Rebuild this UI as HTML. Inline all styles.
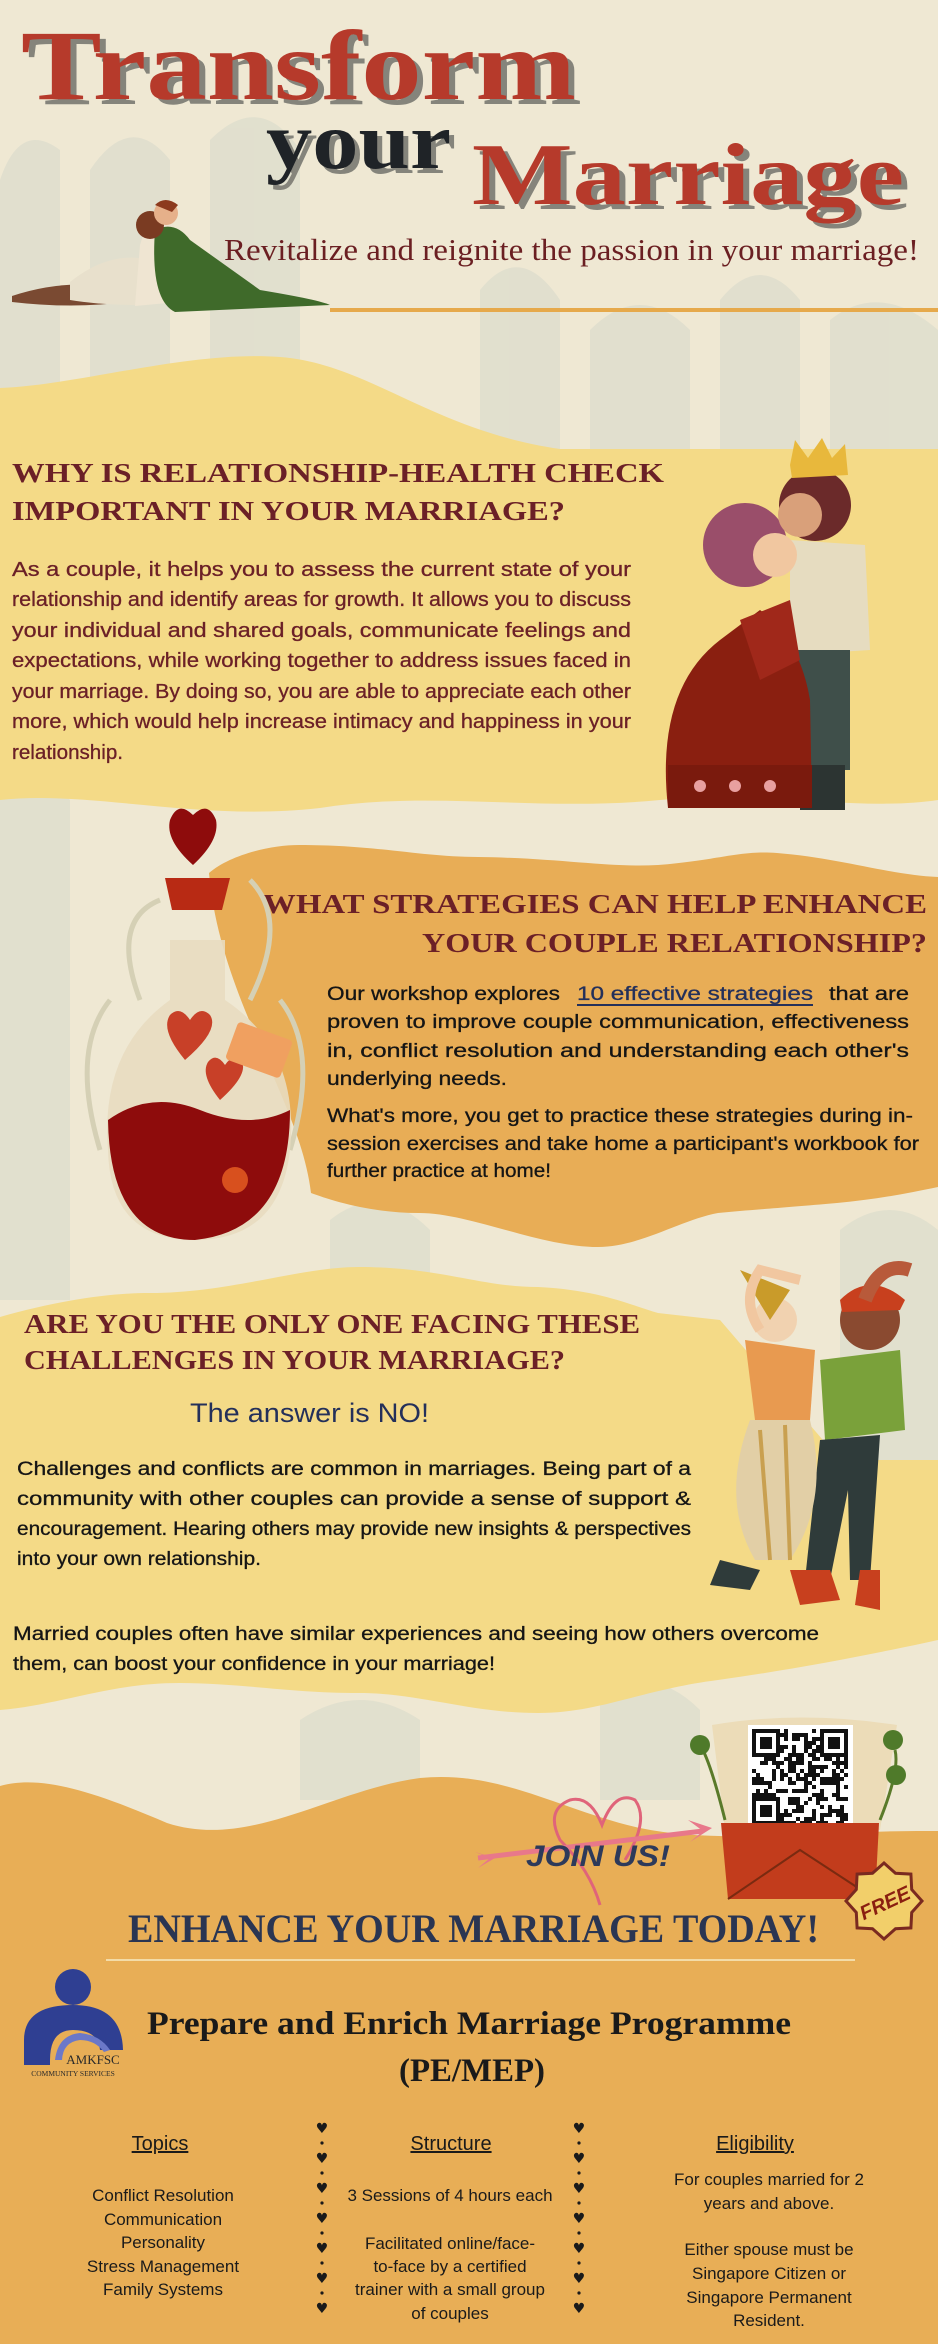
<!DOCTYPE html>
<html><head><meta charset="utf-8"><style>
html,body{margin:0;padding:0;background:#efe8d3;}
svg{display:block;}
.hd{font-family:"Liberation Serif",serif;font-weight:bold;fill:#6b2027;font-size:27px;}
.p1{font-family:"Liberation Sans",sans-serif;fill:#6b2027;font-size:20px;stroke:#6b2027;stroke-width:0.3;}
.p2{font-family:"Liberation Sans",sans-serif;fill:#151515;font-size:19px;stroke:#151515;stroke-width:0.3;}
.bt{font-family:"Liberation Sans",sans-serif;fill:#1a1a1a;font-size:17px;text-anchor:middle;}
.bh{font-family:"Liberation Sans",sans-serif;fill:#1a1a1a;font-size:20px;text-anchor:middle;text-decoration:underline;}
</style></head><body>
<svg width="938" height="2344" viewBox="0 0 938 2344" xmlns="http://www.w3.org/2000/svg">
<rect width="938" height="2344" fill="#efe8d3"/>
<g fill="#d6d8cb" opacity="0.55">
<path d="M0 180 Q20 120 60 150 L60 700 L0 700Z"/>
<path d="M90 170 Q130 110 170 160 L170 700 L90 700Z"/>
<path d="M210 140 Q260 90 300 150 L300 700 L210 700Z"/>
<path d="M480 290 Q520 240 560 300 L560 700 L480 700Z"/>
<path d="M590 330 Q640 280 690 330 L690 700 L590 700Z"/>
<path d="M720 300 Q760 250 800 300 L800 700 L720 700Z"/>
<path d="M830 320 Q880 280 938 330 L938 700 L830 700Z"/>
<path d="M0 800 Q30 760 70 800 L70 1300 L0 1300Z"/>
<path d="M330 1220 Q380 1180 430 1230 L430 1300 L330 1300Z"/>
<path d="M600 1700 Q650 1660 700 1710 L700 1800 L600 1800Z"/>
<path d="M300 1720 Q360 1680 420 1720 L420 1800 L300 1800Z"/>
<path d="M840 1230 Q890 1190 938 1230 L938 1460 L840 1460Z"/>
</g>

<!-- Title -->
<g>
<text x="27" y="104" font-family="Liberation Serif,serif" font-weight="bold" font-size="100" fill="#85847b" textLength="555" lengthAdjust="spacingAndGlyphs">Transform</text>
<text x="21" y="99" font-family="Liberation Serif,serif" font-weight="bold" font-size="100" fill="#b63a2b" textLength="555" lengthAdjust="spacingAndGlyphs">Transform</text>
<text x="271" y="173" font-family="Liberation Serif,serif" font-weight="bold" font-size="80" fill="#85847b" textLength="185" lengthAdjust="spacingAndGlyphs">your</text>
<text x="266" y="168" font-family="Liberation Serif,serif" font-weight="bold" font-size="80" fill="#1f2327" textLength="185" lengthAdjust="spacingAndGlyphs">your</text>
<text x="478" y="209" font-family="Liberation Serif,serif" font-weight="bold" font-size="88" fill="#85847b" textLength="432" lengthAdjust="spacingAndGlyphs">Marriage</text>
<text x="472" y="204" font-family="Liberation Serif,serif" font-weight="bold" font-size="88" fill="#b63a2b" textLength="432" lengthAdjust="spacingAndGlyphs">Marriage</text>
</g>
<text x="224" y="260" font-family="Liberation Serif,serif" font-size="31" fill="#6b1f22" textLength="695" lengthAdjust="spacingAndGlyphs">Revitalize and reignite the passion in your marriage!</text>
<rect x="330" y="308" width="608" height="4" fill="#e6a94b"/>

<g>
<path d="M12 296 Q60 280 110 286 L140 300 Q80 310 12 302Z" fill="#7a4a32"/>
<path d="M70 282 Q110 250 150 260 L140 305 Q100 305 70 300Z" fill="#e8e0cc"/>
<path d="M140 245 Q150 210 170 215 L200 300 L135 306Z" fill="#efe5d2"/>
<path d="M155 230 Q175 220 190 240 L260 290 Q320 300 330 305 L175 312 Q150 300 155 230Z" fill="#3f6a2a"/>
<circle cx="150" cy="225" r="14" fill="#7a3b22"/>
<circle cx="166" cy="213" r="12" fill="#e6b08a"/>
<path d="M155 205 Q165 195 178 205 L172 212 Z" fill="#8c3a1e"/>
</g>

<!-- Section 1 -->
<path d="M0 388 C80 385 190 350 280 357 C370 364 430 430 560 449 L938 449 L938 800 C860 812 760 790 660 800 C540 812 430 790 320 808 C200 822 90 790 0 800Z" fill="#f4da87"/>
<text x="12" y="482" class="hd" textLength="652" lengthAdjust="spacingAndGlyphs">WHY IS RELATIONSHIP-HEALTH CHECK</text>
<text x="12" y="520" class="hd" textLength="553" lengthAdjust="spacingAndGlyphs">IMPORTANT IN YOUR MARRIAGE?</text>
<g>
<text x="12" y="576" class="p1" textLength="619" lengthAdjust="spacingAndGlyphs">As a couple, it helps you to assess the current state of your</text>
<text x="12" y="606" class="p1" textLength="619" lengthAdjust="spacingAndGlyphs">relationship and identify areas for growth. It allows you to discuss</text>
<text x="12" y="637" class="p1" textLength="619" lengthAdjust="spacingAndGlyphs">your individual and shared goals, communicate feelings and</text>
<text x="12" y="667" class="p1" textLength="619" lengthAdjust="spacingAndGlyphs">expectations, while working together to address issues faced in</text>
<text x="12" y="698" class="p1" textLength="619" lengthAdjust="spacingAndGlyphs">your marriage. By doing so, you are able to appreciate each other</text>
<text x="12" y="728" class="p1" textLength="619" lengthAdjust="spacingAndGlyphs">more, which would help increase intimacy and happiness in your</text>
<text x="12" y="759" class="p1" textLength="111" lengthAdjust="spacingAndGlyphs">relationship.</text>
</g>
<g>
<path d="M790 540 L865 545 L870 650 L790 655Z" fill="#e6dcc0"/>
<rect x="795" y="650" width="55" height="120" fill="#3f4f4a"/>
<rect x="800" y="765" width="45" height="45" fill="#2c3432"/>
<path d="M668 808 Q655 690 720 640 L760 610 Q800 640 810 700 L812 808Z" fill="#8a1f10"/>
<rect x="668" y="765" width="144" height="43" fill="#7a1a0d"/>
<circle cx="700" cy="786" r="6" fill="#e8a0a0"/><circle cx="735" cy="786" r="6" fill="#e8a0a0"/><circle cx="770" cy="786" r="6" fill="#e8a0a0"/>
<path d="M740 620 L790 600 L800 660 L760 680Z" fill="#a0281a"/>
<circle cx="745" cy="545" r="42" fill="#9a4e6a"/>
<circle cx="775" cy="555" r="22" fill="#f1c7a0"/>
<circle cx="815" cy="505" r="36" fill="#6b2a2a"/>
<circle cx="800" cy="515" r="22" fill="#d9a07a"/>
<path d="M790 465 L795 440 L808 458 L822 438 L832 458 L845 444 L848 475 L792 478Z" fill="#e8b83c"/>
</g>

<!-- Section 2 -->
<path d="M209 873 C230 855 270 845 299 845 C380 845 420 857 478 857 C560 858 610 868 658 865 C720 860 740 850 777 853 C840 858 890 875 938 877 L938 1187 C900 1195 870 1200 837 1203 C780 1208 750 1210 718 1213 C680 1220 640 1247 598 1247 C540 1247 470 1213 419 1213 C370 1213 330 1200 311 1193 C300 1100 220 1000 209 873Z" fill="#e8ad56"/>
<text x="263" y="913" class="hd" textLength="664" lengthAdjust="spacingAndGlyphs">WHAT STRATEGIES CAN HELP ENHANCE</text>
<text x="422" y="952" class="hd" textLength="505" lengthAdjust="spacingAndGlyphs">YOUR COUPLE RELATIONSHIP?</text>
<g>
<text x="327" y="1000" class="p2" textLength="233" lengthAdjust="spacingAndGlyphs">Our workshop explores</text>
<text x="577" y="1000" class="p2" fill="#24305a" style="fill:#24305a;stroke:#24305a" textLength="236" lengthAdjust="spacingAndGlyphs">10 effective strategies</text>
<rect x="577" y="1004" width="236" height="2" fill="#24305a"/>
<text x="829" y="1000" class="p2" textLength="80" lengthAdjust="spacingAndGlyphs">that are</text>
<text x="327" y="1028" class="p2" textLength="582" lengthAdjust="spacingAndGlyphs">proven to improve couple communication, effectiveness</text>
<text x="327" y="1057" class="p2" textLength="582" lengthAdjust="spacingAndGlyphs">in, conflict resolution and  understanding each other's</text>
<text x="327" y="1085" class="p2" textLength="180" lengthAdjust="spacingAndGlyphs">underlying needs.</text>
<text x="327" y="1122" class="p2" textLength="586" lengthAdjust="spacingAndGlyphs">What's more, you get to practice these strategies during in-</text>
<text x="327" y="1150" class="p2" textLength="592" lengthAdjust="spacingAndGlyphs">session exercises and take home a participant's workbook for</text>
<text x="327" y="1177" class="p2" textLength="224" lengthAdjust="spacingAndGlyphs">further practice at home!</text>
</g>
<g>
<path d="M140 1000 Q110 920 160 900 M250 1000 Q290 920 250 880 M100 1150 Q70 1050 110 1000 M290 1150 Q320 1050 280 1000" stroke="#d5d0b5" stroke-width="5" fill="none"/>
<path d="M170 1000 L170 940 L225 940 L225 1000 Q300 1050 290 1150 Q280 1240 195 1240 Q110 1240 108 1150 Q100 1050 170 1000Z" fill="#e8dcc0" opacity="0.9"/>
<path d="M108 1120 Q150 1090 200 1110 Q250 1130 290 1110 Q290 1230 195 1240 Q110 1240 108 1120Z" fill="#8e0c0c"/>
<path d="M165 878 L230 878 L222 910 L172 910Z" fill="#b82a14"/>
<path d="M193 865 Q165 840 170 820 Q178 800 193 815 Q208 800 216 820 Q220 840 193 865Z" fill="#8e0c0c"/>
<path d="M185 1060 Q160 1030 170 1015 Q180 1005 190 1020 Q200 1005 210 1015 Q220 1030 185 1060Z" fill="#c84028"/>
<path d="M220 1100 Q200 1075 208 1062 Q216 1052 225 1065 Q234 1052 242 1062 Q248 1075 220 1100Z" fill="#c84028"/>
<rect x="230" y="1030" width="58" height="40" rx="4" fill="#f0a060" transform="rotate(20 259 1050)"/>
<circle cx="235" cy="1180" r="13" fill="#d8501e"/>
</g>

<!-- Section 3 -->
<path d="M0 1317 C60 1300 110 1293 150 1293 C230 1293 300 1267 359 1267 C440 1267 480 1287 538 1287 C600 1290 630 1305 658 1313 L720 1320 L840 1460 L938 1460 L938 1640 C870 1655 790 1670 718 1680 C640 1690 600 1713 538 1713 C470 1713 420 1693 359 1693 C290 1693 240 1683 179 1683 C110 1683 60 1705 0 1710Z" fill="#f4da87"/>
<text x="24" y="1333" class="hd" textLength="616" lengthAdjust="spacingAndGlyphs">ARE YOU THE ONLY ONE FACING THESE</text>
<text x="24" y="1369" class="hd" textLength="541" lengthAdjust="spacingAndGlyphs">CHALLENGES IN YOUR MARRIAGE?</text>
<text x="190" y="1422" font-family="Liberation Sans,sans-serif" font-size="27" fill="#24305a" textLength="239" lengthAdjust="spacingAndGlyphs">The answer is NO!</text>
<g>
<text x="17" y="1475" class="p2" textLength="674" lengthAdjust="spacingAndGlyphs">Challenges and conflicts are common in marriages. Being part of a</text>
<text x="17" y="1505" class="p2" textLength="674" lengthAdjust="spacingAndGlyphs">community with other couples can provide a sense of support &amp;</text>
<text x="17" y="1535" class="p2" textLength="674" lengthAdjust="spacingAndGlyphs">encouragement. Hearing others may provide new insights &amp; perspectives</text>
<text x="17" y="1565" class="p2" textLength="244" lengthAdjust="spacingAndGlyphs">into your own relationship.</text>
<text x="13" y="1640" class="p2" textLength="806" lengthAdjust="spacingAndGlyphs">Married couples often have similar experiences and seeing how others overcome</text>
<text x="13" y="1670" class="p2" textLength="482" lengthAdjust="spacingAndGlyphs">them, can boost your confidence in your marriage!</text>
</g>
<g>
<path d="M820 1360 L900 1350 L905 1430 L825 1440Z" fill="#7aa13a"/>
<path d="M820 1440 L880 1435 L870 1580 L850 1580 L848 1490 L830 1580 L805 1580Z" fill="#2f3b3a"/>
<path d="M790 1570 L830 1570 L840 1600 L800 1605Z" fill="#c8401e"/>
<path d="M860 1570 L880 1570 L880 1610 L855 1605Z" fill="#c8401e"/>
<circle cx="870" cy="1320" r="30" fill="#8a4a30"/>
<path d="M840 1300 Q870 1270 905 1300 L900 1310 L842 1312Z" fill="#c8401e"/>
<path d="M865 1300 Q880 1260 910 1270" stroke="#b85a3a" stroke-width="14" fill="none"/>
<path d="M745 1340 L815 1350 L810 1420 L755 1420Z" fill="#e89a50"/>
<path d="M750 1420 L810 1420 Q830 1500 790 1560 L755 1560 Q720 1500 750 1420Z" fill="#e2cfa6"/>
<path d="M760 1430 L770 1560 M785 1425 L790 1560" stroke="#c9a050" stroke-width="4"/>
<path d="M720 1560 L760 1570 L750 1590 L710 1585Z" fill="#2f3b3a"/>
<circle cx="775" cy="1320" r="22" fill="#f1d2b0"/>
<path d="M740 1270 L790 1290 L770 1320Z" fill="#c99b2a"/>
<path d="M760 1330 Q740 1300 760 1270 L800 1280" stroke="#f1c7a0" stroke-width="10" fill="none"/>
</g>

<!-- Bottom -->
<path d="M0 1786 C40 1775 90 1790 167 1823 C250 1850 330 1790 420 1778 C500 1770 560 1810 640 1828 C720 1845 820 1830 938 1831 L938 2344 L0 2344Z" fill="#e8ae56"/>
<g>
<path d="M712 1725 Q800 1710 897 1725 L880 1830 L725 1830Z" fill="#ecdcb8"/>
<rect x="748" y="1725" width="105" height="103" fill="#ffffff"/>
<g id="qr" fill="#111"></g>
<path d="M721 1823 L879 1823 L875 1899 L728 1899Z" fill="#c23c1c"/>
<path d="M728 1899 L800 1850 L875 1899" stroke="#7a2a10" stroke-width="2" fill="none"/>
<path d="M725 1820 Q710 1760 700 1745 M880 1820 Q900 1770 895 1750" stroke="#5a7a2a" stroke-width="3" fill="none"/>
<circle cx="700" cy="1745" r="10" fill="#4f7a2a"/><circle cx="893" cy="1740" r="10" fill="#4f7a2a"/><circle cx="896" cy="1775" r="10" fill="#4f7a2a"/>
</g>
<g>
<path d="M600 1905 Q590 1870 560 1840 Q545 1810 570 1800 Q590 1795 602 1825 Q615 1790 635 1800 Q650 1820 625 1860" stroke="#e0647a" stroke-width="3" fill="none"/>
<path d="M478 1858 L703 1831" stroke="#e8788a" stroke-width="5"/>
<path d="M703 1831 L688 1820 L712 1828 L690 1842Z" fill="#e8788a"/>
<path d="M475 1852 L495 1858 L478 1868 L490 1858Z" fill="#e8788a"/>
<text x="526" y="1866" font-family="Liberation Sans,sans-serif" font-weight="bold" font-style="italic" font-size="30" fill="#2d3a5a" textLength="144" lengthAdjust="spacingAndGlyphs">JOIN US!</text>
</g>
<g>
<polygon id="badge" fill="#f2cf6a" stroke="#7a2a20" stroke-width="3"/>
<text x="884" y="1910" text-anchor="middle" font-family="Liberation Sans,sans-serif" font-weight="bold" font-style="italic" font-size="20" fill="#8a1f10" transform="rotate(-25 884 1901)">FREE</text>
</g>
<text x="128" y="1942" font-family="Liberation Serif,serif" font-weight="bold" font-size="40" fill="#2a3552" textLength="691" lengthAdjust="spacingAndGlyphs">ENHANCE YOUR MARRIAGE TODAY!</text>
<rect x="106" y="1959" width="749" height="2" fill="#f3dca8"/>
<g>
<circle cx="73" cy="1987" r="18" fill="#2f3f92"/>
<path d="M24 2065 L24 2040 Q24 2005 73 2005 Q122 2005 123 2050 L100 2050 Q98 2030 73 2030 Q50 2030 50 2060 L50 2065Z" fill="#2f3f92"/>
<path d="M55 2060 Q58 2035 80 2033 Q100 2035 110 2050 L104 2052 Q95 2040 80 2040 Q63 2042 62 2060Z" fill="#6b78c8"/>
<text x="93" y="2064" text-anchor="middle" font-family="Liberation Serif,serif" font-size="13" fill="#2a2a2a">AMKFSC</text>
<text x="73" y="2076" text-anchor="middle" font-family="Liberation Serif,serif" font-size="7.5" fill="#2a2a2a">COMMUNITY SERVICES</text>
</g>
<text x="147" y="2034" font-family="Liberation Serif,serif" font-weight="bold" font-size="33" fill="#1a1a1a" textLength="644" lengthAdjust="spacingAndGlyphs">Prepare and Enrich Marriage Programme</text>
<text x="399" y="2081" font-family="Liberation Serif,serif" font-weight="bold" font-size="33" fill="#1a1a1a" textLength="146" lengthAdjust="spacingAndGlyphs">(PE/MEP)</text>

<g>
<text x="160" y="2150" class="bh">Topics</text>
<text x="163" y="2201" class="bt">Conflict Resolution</text>
<text x="163" y="2225" class="bt">Communication</text>
<text x="163" y="2248" class="bt">Personality</text>
<text x="163" y="2272" class="bt">Stress Management</text>
<text x="163" y="2295" class="bt">Family Systems</text>
</g>
<g>
<text x="451" y="2150" class="bh">Structure</text>
<text x="450" y="2201" class="bt">3 Sessions of 4 hours each</text>
<text x="450" y="2249" class="bt">Facilitated online/face-</text>
<text x="450" y="2272" class="bt">to-face by a certified</text>
<text x="450" y="2295" class="bt">trainer with a small group</text>
<text x="450" y="2319" class="bt">of couples</text>
</g>
<g>
<text x="755" y="2150" class="bh">Eligibility</text>
<text x="769" y="2185" class="bt">For couples married for 2</text>
<text x="769" y="2209" class="bt">years and above.</text>
<text x="769" y="2255" class="bt">Either spouse must be</text>
<text x="769" y="2279" class="bt">Singapore Citizen or</text>
<text x="769" y="2303" class="bt">Singapore Permanent</text>
<text x="769" y="2326" class="bt">Resident.</text>
</g>
<g id="dividers"></g>
</svg>
<script>
var NS="http://www.w3.org/2000/svg";
// heart dividers
var dv=document.getElementById('dividers');
[322,579].forEach(function(x){
  for(var i=0;i<7;i++){
    var y=2133+i*30;
    var h=document.createElementNS(NS,'text');
    
    
    h.setAttribute('x',x);h.setAttribute('y',y);h.setAttribute('text-anchor','middle');
    h.setAttribute('font-size','14');h.setAttribute('fill','#1a1a1a');h.setAttribute('font-family','DejaVu Sans,sans-serif');
    h.textContent='\u2665';dv.appendChild(h);
    if(i<6){var c=document.createElementNS(NS,'circle');
    
    
    c.setAttribute('cx',x);c.setAttribute('cy',y+10);c.setAttribute('r','1.6');c.setAttribute('fill','#1a1a1a');dv.appendChild(c);}
  }
});
// QR-like pattern
var qr=document.getElementById('qr');
var ox=752,oy=1729,cs=4,n=24,seed=7;
function rnd(){seed=(seed*1103515245+12345)%2147483648;return seed/2147483648;}
for(var r=0;r<n;r++)for(var c=0;c<n;c++){
  var inF=(r<7&&c<7)||(r<7&&c>=n-7)||(r>=n-7&&c<7);
  var on;
  if(inF){var rr=r%17,cc=c%17;if(r>=n-7)rr=r-(n-7);if(c>=n-7)cc=c-(n-7);
    on=(rr==0||rr==6||cc==0||cc==6||(rr>=2&&rr<=4&&cc>=2&&cc<=4));}
  else on=rnd()<0.5;
  if(on){var q=document.createElementNS(NS,'rect');
    q.setAttribute('x',ox+c*cs);q.setAttribute('y',oy+r*cs);q.setAttribute('width',cs);q.setAttribute('height',cs);qr.appendChild(q);}
}
// badge star
var pts=[],cx=884,cy=1901;
for(var k=0;k<16;k++){var a=k*Math.PI/8,rad=(k%2?30:38);pts.push((cx+rad*Math.cos(a)).toFixed(1)+','+(cy+rad*Math.sin(a)).toFixed(1));}
document.getElementById('badge').setAttribute('points',pts.join(' '));
</script>
</body></html>
